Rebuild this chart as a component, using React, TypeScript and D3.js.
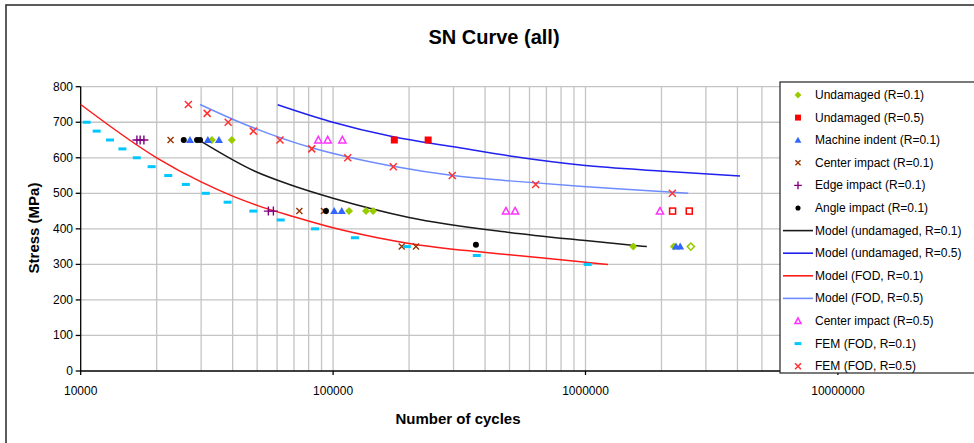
import React from 'react';
import * as d3 from 'd3';

type Pt = [number, number]; // [cycles, stress MPa]

// Test results
const undamagedR01: Pt[] = [[33100, 650], [39700, 650], [115700, 450], [135000, 450], [144000, 450], [1546000, 350], [2240000, 350]];
const undamagedR01Runout: Pt[] = [[2614000, 350]];
const undamagedR05: Pt[] = [[174800, 650], [238000, 650]];
const undamagedR05Runout: Pt[] = [[2213000, 450], [2577000, 450]];
const machineIndentR01: Pt[] = [[27100, 650], [31900, 650], [35300, 650], [101000, 450], [108200, 450], [2284000, 350], [2372000, 350]];
const centerImpactR01: Pt[] = [[22700, 650], [73500, 450], [92000, 450], [187000, 350], [213000, 350]];
const edgeImpactR01: Pt[] = [[16700, 650], [17200, 650], [17800, 650], [55400, 450], [58000, 450]];
const angleImpactR01: Pt[] = [[25600, 650], [28900, 650], [29700, 650], [93700, 450], [368000, 355]];
const centerImpactR05: Pt[] = [[87400, 650], [95200, 650], [108800, 650], [484000, 450], [526000, 450], [1972000, 450]];

// Model curves
const modelUndamagedR01: Pt[] = [[30000, 646], [49000, 562], [67600, 524], [100000, 486], [200000, 432], [500000, 390], [1000000, 367], [1750000, 350]];
const modelUndamagedR05: Pt[] = [[60300, 749], [97200, 702], [173000, 659], [300000, 631], [502000, 605], [977000, 579], [1972000, 563], [4094000, 549]];
const modelFodR01: Pt[] = [[10000, 750], [20000, 600], [30000, 532], [40000, 492], [50000, 466], [70000, 434], [100000, 403], [150000, 375], [200000, 359], [370000, 336], [500000, 327], [1000000, 306], [1228000, 300]];
const modelFodR05: Pt[] = [[29700, 750], [46900, 688], [82300, 628], [114500, 602], [172700, 576], [298500, 550], [502000, 535], [977000, 519], [2228000, 503], [2553000, 500]];

// FEM predictions
const femFodR01: Pt[] = [[10560, 700], [11570, 675], [13070, 650], [14630, 625], [16680, 600], [19100, 575], [22230, 550], [26100, 525], [31300, 500], [38200, 475], [48300, 450], [62000, 425], [84800, 400], [122000, 375], [196000, 350], [371000, 325], [1020000, 300]];
const femFodR05: Pt[] = [[26700, 750], [31700, 725], [38400, 700], [48300, 675], [61600, 650], [82300, 625], [114300, 600], [173200, 575], [296700, 550], [634800, 525], [2208000, 500]];

const yTicks = [0, 100, 200, 300, 400, 500, 600, 700, 800];
const xTicks = [1e4, 1e5, 1e6, 1e7];
const xTickLabels = ['10000', '100000', '1000000', '10000000'];

const W = 974;
const H = 443;
const FONT = "'Liberation Sans', Arial, sans-serif";

type Marker = 'diamond' | 'square' | 'triangle' | 'cross' | 'plus' | 'dot' | 'hollowTriangle' | 'dash' | 'xmark' | 'hollowDiamond' | 'hollowSquare' | 'line';

const C = {
  green: '#99cc00',
  red: '#ff0000',
  blue: '#3366ff',
  brown: '#993300',
  purple: '#800080',
  black: '#000000',
  modelBlack: '#1a1a1a',
  modelDarkBlue: '#2020f0',
  modelRed: '#ff1a1a',
  modelLightBlue: '#6e8cff',
  magenta: '#ff33ff',
  cyan: '#00c8ff',
  femRed: '#ff3030',
};

function MarkerShape({ type, cx, cy, color, s = 1 }: { type: Marker; cx: number; cy: number; color: string; s?: number }) {
  switch (type) {
    case 'diamond':
      return <path d={`M${cx},${cy - 4 * s}L${cx + 4 * s},${cy}L${cx},${cy + 4 * s}L${cx - 4 * s},${cy}Z`} fill={color} />;
    case 'hollowDiamond':
      return <path d={`M${cx},${cy - 3.6 * s}L${cx + 3.6 * s},${cy}L${cx},${cy + 3.6 * s}L${cx - 3.6 * s},${cy}Z`} fill="#fff" stroke={color} strokeWidth={1.6} />;
    case 'square':
      return <rect x={cx - 3.5 * s} y={cy - 3.5 * s} width={7 * s} height={7 * s} fill={color} />;
    case 'hollowSquare':
      return <rect x={cx - 3 * s} y={cy - 3 * s} width={6 * s} height={6 * s} fill="#fff" stroke={color} strokeWidth={1.5} />;
    case 'triangle':
      return <path d={`M${cx},${cy - 4 * s}L${cx + 4 * s},${cy + 3 * s}L${cx - 4 * s},${cy + 3 * s}Z`} fill={color} />;
    case 'hollowTriangle':
      return <path d={`M${cx},${cy - 3.6 * s}L${cx + 3.6 * s},${cy + 3 * s}L${cx - 3.6 * s},${cy + 3 * s}Z`} fill="#fff" stroke={color} strokeWidth={1.5} />;
    case 'cross':
      return (
        <path d={`M${cx - 3 * s},${cy - 3 * s}L${cx + 3 * s},${cy + 3 * s}M${cx - 3 * s},${cy + 3 * s}L${cx + 3 * s},${cy - 3 * s}`} stroke={color} strokeWidth={1.4} fill="none" />
      );
    case 'xmark':
      return (
        <path d={`M${cx - 3.5 * s},${cy - 3.5 * s}L${cx + 3.5 * s},${cy + 3.5 * s}M${cx - 3.5 * s},${cy + 3.5 * s}L${cx + 3.5 * s},${cy - 3.5 * s}`} stroke={color} strokeWidth={1.5} fill="none" />
      );
    case 'plus':
      return (
        <path d={`M${cx - 4.5 * s},${cy}L${cx + 4.5 * s},${cy}M${cx},${cy - 4.5 * s}L${cx},${cy + 4.5 * s}`} stroke={color} strokeWidth={1.4} fill="none" />
      );
    case 'dot':
      return <circle cx={cx} cy={cy} r={3 * s} fill={color} />;
    case 'dash':
      return <rect x={cx - 4 * s} y={cy - 1.5} width={8 * s} height={3} fill={color} />;
    default:
      return null;
  }
}

export default function App() {
  const x = d3.scaleLog().domain([1e4, 1e8]).range([80.7, 80.7 + 4 * 252.4]);
  const y = d3.scaleLinear().domain([0, 800]).range([371, 86.7]);
  const plotRight = W;

  const line = d3
    .line<Pt>()
    .x((d) => x(d[0]))
    .y((d) => y(d[1]))
    .curve(d3.curveMonotoneX);

  // minor + major vertical grid (1..9 per decade)
  const vGrid: number[] = [];
  for (let e = 4; e < 8; e++) {
    for (let k = 1; k <= 9; k++) {
      const v = k * Math.pow(10, e);
      if (x(v) <= plotRight && v > 1e4) vGrid.push(v);
    }
  }

  const scatterSeries: { data: Pt[]; type: Marker; color: string }[] = [
    { data: undamagedR01, type: 'diamond', color: C.green },
    { data: undamagedR01Runout, type: 'hollowDiamond', color: C.green },
    { data: undamagedR05, type: 'square', color: C.red },
    { data: undamagedR05Runout, type: 'hollowSquare', color: C.red },
    { data: machineIndentR01, type: 'triangle', color: C.blue },
    { data: centerImpactR01, type: 'cross', color: C.brown },
    { data: edgeImpactR01, type: 'plus', color: C.purple },
    { data: angleImpactR01, type: 'dot', color: C.black },
    { data: centerImpactR05, type: 'hollowTriangle', color: C.magenta },
    { data: femFodR01, type: 'dash', color: C.cyan },
    { data: femFodR05, type: 'xmark', color: C.femRed },
  ];

  const models: { data: Pt[]; color: string }[] = [
    { data: modelUndamagedR01, color: C.modelBlack },
    { data: modelUndamagedR05, color: C.modelDarkBlue },
    { data: modelFodR01, color: C.modelRed },
    { data: modelFodR05, color: C.modelLightBlue },
  ];

  const legendItems: { label: string; type: Marker; color: string }[] = [
    { label: 'Undamaged (R=0.1)', type: 'diamond', color: C.green },
    { label: 'Undamaged (R=0.5)', type: 'square', color: C.red },
    { label: 'Machine indent (R=0.1)', type: 'triangle', color: C.blue },
    { label: 'Center impact (R=0.1)', type: 'cross', color: C.brown },
    { label: 'Edge impact (R=0.1)', type: 'plus', color: C.purple },
    { label: 'Angle impact (R=0.1)', type: 'dot', color: C.black },
    { label: 'Model (undamaged, R=0.1)', type: 'line', color: C.modelBlack },
    { label: 'Model (undamaged, R=0.5)', type: 'line', color: C.modelDarkBlue },
    { label: 'Model (FOD, R=0.1)', type: 'line', color: C.modelRed },
    { label: 'Model (FOD, R=0.5)', type: 'line', color: C.modelLightBlue },
    { label: 'Center impact (R=0.5)', type: 'hollowTriangle', color: C.magenta },
    { label: 'FEM (FOD, R=0.1)', type: 'dash', color: C.cyan },
    { label: 'FEM (FOD, R=0.5)', type: 'xmark', color: C.femRed },
  ];

  const legendX = 780;
  const legendY = 82;
  const legendRow0 = 95;
  const legendStep = 22.6;

  return (
    <div style={{ position: 'absolute', left: 0, top: 0 }}>
      <svg width={W} height={H} style={{ display: 'block', background: '#fff' }} fontFamily={FONT}>
        <rect x={0} y={0} width={W} height={H} fill="#fff" />
        {/* chart frame */}
        <rect x={6} y={5} width={W + 20} height={H + 20} fill="none" stroke="#333" strokeWidth={1.6} />

        <text x={494} y={37} textAnchor="middle" dominantBaseline="central" fontSize={20} fontWeight="bold" fill="#000">
          SN Curve (all)
        </text>

        {/* grid */}
        <g stroke="#c4c4c4" strokeWidth={1.3}>
          {yTicks.filter((t) => t > 0).map((t) => (
            <line key={'h' + t} x1={x(1e4)} x2={plotRight} y1={y(t)} y2={y(t)} />
          ))}
          {vGrid.map((v) => (
            <line key={'v' + v} x1={x(v)} x2={x(v)} y1={y(800)} y2={y(0)} />
          ))}
        </g>

        {/* axes */}
        <g stroke="#000" strokeWidth={1.3}>
          <line x1={x(1e4)} x2={x(1e4)} y1={y(800)} y2={y(0)} />
          <line x1={x(1e4)} x2={plotRight} y1={y(0)} y2={y(0)} />
          {yTicks.map((t) => (
            <line key={'yt' + t} x1={x(1e4) - 5} x2={x(1e4)} y1={y(t)} y2={y(t)} />
          ))}
          {xTicks.map((t) => (
            <line key={'xt' + t} x1={x(t)} x2={x(t)} y1={y(0)} y2={y(0) + 4} />
          ))}
        </g>
        <g fontSize={12} fill="#000">
          {yTicks.map((t) => (
            <text key={'yl' + t} x={73} y={y(t)} textAnchor="end" dominantBaseline="central">
              {t}
            </text>
          ))}
          {xTicks.map((t, i) => (
            <text key={'xl' + t} x={x(t)} y={391} textAnchor="middle" dominantBaseline="central">
              {xTickLabels[i]}
            </text>
          ))}
        </g>
        <text x={458} y={418} textAnchor="middle" dominantBaseline="central" fontSize={15} fontWeight="bold">
          Number of cycles
        </text>
        <text
          transform={`translate(33,${228}) rotate(-90)`}
          textAnchor="middle"
          dominantBaseline="central"
          fontSize={15}
          fontWeight="bold"
        >
          Stress (MPa)
        </text>

        {/* model curves */}
        {models.map((m, i) => (
          <path key={'m' + i} d={line(m.data) ?? ''} fill="none" stroke={m.color} strokeWidth={1.5} />
        ))}

        {/* test points */}
        {scatterSeries.map((s, i) => (
          <g key={'s' + i}>
            {s.data.map((d, j) => (
              <MarkerShape key={j} type={s.type} cx={x(d[0])} cy={y(d[1])} color={s.color} />
            ))}
          </g>
        ))}

        {/* legend */}
        <rect x={legendX} y={legendY} width={W} height={291} fill="#fff" stroke="#222" strokeWidth={1.2} />
        {legendItems.map((it, i) => {
          const cy = legendRow0 + i * legendStep;
          return (
            <g key={'lg' + i}>
              {it.type === 'line' ? (
                <line x1={783} x2={813} y1={cy} y2={cy} stroke={it.color} strokeWidth={1.6} />
              ) : (
                <MarkerShape type={it.type} cx={798} cy={cy} color={it.color} s={0.85} />
              )}
              <text x={815} y={cy} dominantBaseline="central" fontSize={12} fill="#000">
                {it.label}
              </text>
            </g>
          );
        })}
      </svg>
    </div>
  );
}
